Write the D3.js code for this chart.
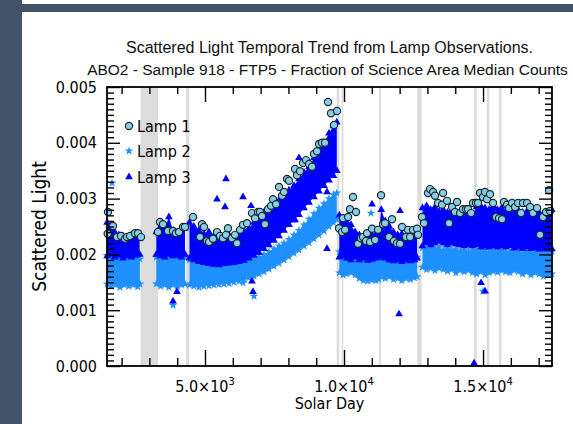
<!DOCTYPE html>
<html><head><meta charset="utf-8">
<script src="https://cdn.jsdelivr.net/npm/d3@7"></script>
<style>body{margin:0;background:#fff} svg{display:block}</style>
</head><body>
<svg id="c" width="573" height="424"></svg>
<script>
// ---------- data (values in units of 1e-3) ----------
const titleLines = ["Scattered Light Temporal Trend from Lamp Observations.",
  "ABO2 - Sample 918 - FTP5 - Fraction of Science Area Median Counts"];
const xTitle = "Solar Day";
const yTitle = "Scattered Light";
const seriesNames = ["Lamp 1", "Lamp 2", "Lamp 3"];
const xDomain = [1475, 17480];
const yDomain = [0, 5];
const xMajorTicks = [5000, 10000, 15000];
const xTickMant = ["5.0", "1.0", "1.5"];
const xTickExp = ["3", "4", "4"];
const yMajorTicks = [0, 1, 2, 3, 4, 5];
const yTickLabels = ["0.000", "0.001", "0.002", "0.003", "0.004", "0.005"];

// grey excluded intervals [start day, end day]
const greyBands = [[2680,3310],[4316,4435],[9737,9830],[9916,9975],[11259,11331],
  [12637,12795],[14676,14772],[15133,15227],[15575,15659]];

// Lamp 3 dense cloud: [day, low, high]
const lamp3Band = [
 [[1480,1.97,2.57],[1600,2.00,2.50],[1750,1.95,2.40],[1900,1.98,2.35],[2050,1.93,2.33],[2200,1.97,2.30],[2350,1.95,2.35],[2500,1.98,2.37],[2650,2.00,2.33]],
 [[3250,2.00,2.40],[3400,1.97,2.50],[3550,1.95,2.45],[3700,2.00,2.67],[3850,1.97,2.43],[4000,1.98,2.40],[4150,1.95,2.45],[4280,2.00,2.47]],
 [[4440,1.93,2.57],[4600,1.90,2.50],[4780,1.87,2.43],[4960,1.85,2.37],[5140,1.83,2.40],[5320,1.82,2.33],[5500,1.81,2.37],[5680,1.83,2.31],
  [5860,1.84,2.35],[6040,1.85,2.33],[6220,1.87,2.39],[6400,1.89,2.43],[6580,1.93,2.47],[6760,1.98,2.57],[6940,2.03,2.65],[7120,2.10,2.75],
  [7300,2.17,2.83],[7480,2.25,2.90],[7660,2.33,2.97],[7840,2.43,3.05],[8020,2.53,3.15],[8200,2.61,3.23],[8380,2.71,3.35],[8560,2.83,3.47],
  [8740,2.93,3.57],[8920,3.03,3.73],[9100,3.13,3.87],[9280,3.23,4.00],[9460,3.33,4.17],[9620,3.41,4.30],[9740,3.50,4.37]],
 [[9830,1.95,2.70],[9960,1.97,2.65],[10100,1.93,2.57],[10250,1.90,2.53],[10400,1.95,2.40],[10550,1.90,2.35],[10700,1.93,2.33],
  [10850,1.89,2.30],[11000,1.91,2.35],[11150,1.93,2.37],[11250,1.95,2.40],[11340,1.95,2.80],[11480,1.93,2.60],[11630,1.90,2.50],
  [11780,1.88,2.40],[11930,1.90,2.35],[12080,1.87,2.37],[12230,1.90,2.33],[12380,1.88,2.30],[12530,1.90,2.35],[12630,1.93,2.40]],
 [[12820,2.15,2.83],[12970,2.20,2.87],[13120,2.17,2.80],[13270,2.20,2.85],[13420,2.23,2.77],[13570,2.20,2.80],[13720,2.17,2.75],
  [13870,2.20,2.78],[14020,2.18,2.73],[14170,2.17,2.77],[14320,2.15,2.73],[14470,2.17,2.75],[14620,2.15,2.71],[14770,2.17,2.85],
  [14920,2.13,2.87],[15070,2.15,2.83],[15220,2.13,2.80],[15370,2.15,2.87],[15520,2.13,2.80],[15670,2.15,2.83],[15820,2.13,2.77],
  [15970,2.15,2.80],[16120,2.11,2.75],[16270,2.13,2.79],[16420,2.10,2.75],[16570,2.13,2.77],[16720,2.10,2.73],[16870,2.11,2.77],
  [17020,2.09,2.75],[17170,2.10,2.71],[17320,2.09,2.75],[17470,2.10,2.80]]
];
// Lamp 2 dense cloud: [day, low, high]
const lamp2Band = [
 [[1480,1.47,1.98],[1620,1.43,1.95],[1780,1.45,1.92],[1940,1.41,1.95],[2100,1.45,1.92],[2260,1.43,1.95],[2420,1.45,1.93],[2580,1.42,1.95],[2660,1.47,1.92]],
 [[3250,1.47,1.95],[3400,1.43,1.95],[3550,1.45,1.92],[3700,1.41,1.95],[3850,1.45,1.92],[4000,1.43,1.95],[4150,1.45,1.92],[4280,1.47,1.95]],
 [[4440,1.45,1.90],[4600,1.43,1.88],[4780,1.41,1.86],[4960,1.43,1.84],[5140,1.44,1.82],[5320,1.45,1.83],[5500,1.46,1.82],[5680,1.47,1.84],
  [5860,1.48,1.85],[6040,1.50,1.86],[6220,1.52,1.88],[6400,1.55,1.90],[6580,1.58,1.92],[6760,1.61,1.91],[6940,1.65,1.95],[7120,1.69,2.00],
  [7300,1.74,2.05],[7480,1.79,2.10],[7660,1.84,2.15],[7840,1.90,2.20],[8020,1.96,2.27],[8200,2.02,2.35],[8380,2.08,2.43],[8560,2.15,2.53],
  [8740,2.21,2.63],[8920,2.28,2.73],[9100,2.35,2.83],[9280,2.42,2.91],[9460,2.50,3.00],[9620,2.57,3.07],[9740,2.63,3.10]],
 [[9830,1.67,2.05],[9960,1.63,2.02],[10100,1.65,2.00],[10250,1.67,1.98],[10400,1.63,2.00],[10550,1.57,1.95],[10700,1.53,1.95],
  [10850,1.52,1.92],[11000,1.54,1.95],[11150,1.53,1.93],[11250,1.55,1.95],[11340,1.60,1.95],[11480,1.57,1.92],[11630,1.60,1.95],
  [11780,1.55,1.90],[11930,1.57,1.92],[12080,1.53,1.90],[12230,1.57,1.93],[12380,1.55,1.90],[12530,1.58,1.92],[12630,1.60,1.95]],
 [[12820,1.77,2.12],[12970,1.73,2.10],[13120,1.75,2.12],[13270,1.71,2.10],[13420,1.75,2.12],[13570,1.73,2.08],[13720,1.70,2.10],
  [13870,1.73,2.08],[14020,1.67,2.10],[14170,1.71,2.06],[14320,1.69,2.08],[14470,1.71,2.05],[14620,1.67,2.08],[14770,1.65,2.06],
  [14920,1.69,2.05],[15070,1.63,2.08],[15220,1.67,2.04],[15370,1.70,2.06],[15520,1.68,2.05],[15670,1.71,2.06],[15820,1.69,2.04],
  [15970,1.67,2.05],[16120,1.71,2.03],[16270,1.69,2.05],[16420,1.65,2.02],[16570,1.68,2.04],[16720,1.63,2.03],[16870,1.67,2.02],
  [17020,1.65,2.04],[17170,1.61,2.02],[17320,1.63,2.03],[17470,1.65,2.05]]
];
// isolated points [day, value]
const lamp3Points = [[3993,1.33],[3849,1.16],[5432,2.99],[5755,3.35],[5719,2.85],[6367,3.03],[6654,2.87],
  [8381,3.73],[8237,2.62],[9388,2.10],[9388,3.12],[6690,1.52],[6726,1.33],[11007,2.90],[12014,2.78],[11978,0.93],
  [14676,0.05],[14928,1.49],[15071,1.34]];
const lamp2Points = [[1655,3.28],[3849,1.09],[6367,1.49],[6762,1.25],[10971,2.74],[14964,2.31],[15000,1.34]];
const lamp1Points = [
 [1511,2.76],[1691,2.51],[1500,2.37],[1835,2.31],[1978,2.33],[2122,2.28],[2194,2.31],[2302,2.33],[2482,2.38],[2590,2.38],[2698,2.31],
 [3309,2.40],[3381,2.58],[3489,2.54],[3669,2.42],[3849,2.42],[3957,2.38],[4065,2.40],[4209,2.49],[4280,2.49],
 [4568,2.67],[4820,2.31],[4892,2.54],[4964,2.49],[5072,2.24],[5144,2.22],[5288,2.28],[5432,2.40],[5539,2.33],[5647,2.29],
 [5755,2.35],[5827,2.47],[5971,2.29],[6079,2.35],[6151,2.20],[6259,2.44],[6367,2.53],[6510,2.56],[6690,2.74],[6798,2.65],
 [6906,2.76],[6978,2.76],[7050,2.69],[7158,2.54],[7266,2.81],[7374,2.87],[7446,2.99],[7554,2.90],[7662,3.21],[7770,3.05],
 [7841,3.12],[7949,3.35],[8021,3.32],[8237,3.53],[8309,3.42],[8417,3.49],[8525,3.64],[8633,3.69],[8741,3.62],[8849,3.57],
 [8921,3.80],[9029,3.85],[9101,3.98],[9208,4.00],[9316,4.00],[9424,4.73],[9532,4.53],[9640,4.32],[9748,4.57],
 [9820,2.47],[9928,2.40],[10036,2.44],[9964,2.65],[10144,2.67],[10215,2.81],[10323,3.03],[10431,2.76],[10503,2.19],[10611,2.29],
 [10683,2.31],[10791,2.24],[10827,2.38],[10935,2.22],[11007,2.46],[11115,2.26],[11223,2.44],[11331,3.06],[11403,2.54],[11474,2.56],
 [11618,2.31],[11726,2.63],[11798,2.24],[11906,2.20],[12014,2.19],[12086,2.49],[12230,2.31],[12302,2.44],[12374,2.31],[12482,2.44],
 [12625,2.46],[12661,2.35],
 [12805,2.67],[12877,2.56],[13021,3.10],[13093,3.17],[13201,3.12],[13273,3.05],[13381,2.92],[13525,2.89],[13561,3.10],[13705,2.96],
 [13777,2.56],[13885,2.85],[13992,2.76],[14064,2.94],[14172,2.74],[14280,2.81],[14388,2.81],[14460,2.81],[14568,2.74],[14640,2.92],
 [14748,2.92],[14820,2.92],[14892,3.10],[14999,3.03],[15071,3.12],[15143,2.99],[15251,3.08],[15359,2.92],[15467,2.67],[15575,2.65],
 [15683,2.63],[15755,2.94],[15863,2.89],[15935,2.83],[16043,2.92],[16151,2.85],[16259,2.92],[16367,2.74],[16438,2.92],[16582,2.92],
 [16690,2.85],[16798,2.74],[16942,2.83],[17050,2.35],[17158,2.67],[17266,2.76],[17374,3.15],[17409,2.78]
];

// ---------- drawing ----------
const C1 = "#87cfe9", C2 = "#1e90ff", C3 = "#0000ff";
const svg = d3.select("#c");
const L = 107, R = 552, T = 87, B = 366;
const x = d3.scaleLinear().domain(xDomain).range([L, R]);
const y = d3.scaleLinear().domain(yDomain).range([B, T]);
const labelFont = "'DejaVu Sans Condensed','DejaVu Sans',sans-serif";

// frame decoration
svg.append("rect").attr("x",0).attr("y",0).attr("width",22).attr("height",424).attr("fill","#43536a");
svg.append("rect").attr("x",22).attr("y",4).attr("width",551).attr("height",8).attr("fill","#43536a");

// grey bands
svg.append("g").selectAll("rect").data(greyBands).join("rect")
  .attr("x", d => x(d[0])).attr("width", d => x(d[1]) - x(d[0]))
  .attr("y", T).attr("height", B - T).attr("fill", "#dcdcdc");

const triangle = d3.symbol(d3.symbolTriangle, 26);
const star = d3.symbol(d3.symbolStar, 24);
const area = d3.area().x(d => x(d[0])).y0(d => y(d[1])).y1(d => y(d[2]));

function drawBand(data, color, sym, pts) {
  const g = svg.append("g");
  g.selectAll("path.a").data(data).join("path").attr("class","a")
    .attr("d", area).attr("fill", color);
  const edges = data.flatMap(seg => seg.flatMap(r => [[r[0], r[1]], [r[0], r[2]]]));
  g.selectAll("path.m").data(edges.concat(pts)).join("path").attr("class","m")
    .attr("transform", d => `translate(${x(d[0])},${y(d[1])})`)
    .attr("d", sym).attr("fill", color);
}
drawBand(lamp2Band, C2, star, lamp2Points);
drawBand(lamp3Band, C3, triangle, lamp3Points);

svg.append("g").selectAll("circle").data(lamp1Points).join("circle")
  .attr("cx", d => x(d[0])).attr("cy", d => y(d[1])).attr("r", 3.6)
  .attr("fill", C1).attr("stroke", "#1b2a2e").attr("stroke-width", 1.2);

// axes
const xMinor = d3.range(2000, 17001, 1000).filter(v => !xMajorTicks.includes(v));
const yMinor = d3.range(1, 50).map(v => v / 10).filter(v => Math.abs(v - Math.round(v)) > 1e-6);
function styleAxis(g) {
  g.select(".domain").remove();
  g.selectAll(".tick line").attr("stroke", "#000").attr("stroke-width", 1.4);
}
svg.append("g").attr("transform", `translate(0,${B})`)
  .call(d3.axisBottom(x).tickValues(xMinor).tickSize(-8).tickFormat("")).call(styleAxis);
svg.append("g").attr("transform", `translate(0,${B})`)
  .call(d3.axisBottom(x).tickValues(xMajorTicks).tickSize(-16).tickFormat("")).call(styleAxis);
svg.append("g").attr("transform", `translate(0,${T})`)
  .call(d3.axisTop(x).tickValues(xMinor).tickSize(-7).tickFormat("")).call(styleAxis);
svg.append("g").attr("transform", `translate(0,${T})`)
  .call(d3.axisTop(x).tickValues(xMajorTicks).tickSize(-15).tickFormat("")).call(styleAxis);
svg.append("g").attr("transform", `translate(${L},0)`)
  .call(d3.axisLeft(y).tickValues(yMinor).tickSize(-7).tickFormat("")).call(styleAxis);
const yl = svg.append("g").attr("transform", `translate(${L},0)`)
  .call(d3.axisLeft(y).tickValues(yMajorTicks).tickSize(-13).tickPadding(10)
    .tickFormat((d, i) => yTickLabels[i])).call(styleAxis);
yl.selectAll("text").attr("font-family", labelFont).attr("font-size", 16).attr("fill", "#000");
svg.append("g").attr("transform", `translate(${R},0)`)
  .call(d3.axisRight(y).tickValues(yMinor).tickSize(-7).tickFormat("")).call(styleAxis);
svg.append("g").attr("transform", `translate(${R},0)`)
  .call(d3.axisRight(y).tickValues(yMajorTicks).tickSize(-13).tickFormat("")).call(styleAxis);

// frame
svg.append("rect").attr("x", L).attr("y", T).attr("width", R - L).attr("height", B - T)
  .attr("fill", "none").attr("stroke", "#000").attr("stroke-width", 1.8);

// x tick labels with superscripts
const xl = svg.append("g").selectAll("text").data(xMajorTicks).join("text")
  .attr("x", d => x(d)).attr("y", B + 26).attr("text-anchor", "middle")
  .attr("font-family", labelFont).attr("font-size", 16).attr("fill", "#000");
xl.append("tspan").text((d, i) => xTickMant[i] + "\u00d710");
xl.append("tspan").attr("dy", -7).attr("font-size", 11).text((d, i) => xTickExp[i]);

svg.append("text").attr("x", (L + R) / 2).attr("y", B + 43).attr("text-anchor", "middle")
  .attr("font-family", labelFont).attr("font-size", 16).text(xTitle);
svg.append("text").attr("transform", `translate(46,${(T + B) / 2}) rotate(-90)`)
  .attr("text-anchor", "middle").attr("font-family", labelFont).attr("font-size", 19).text(yTitle);

// title
svg.append("g").selectAll("text").data(titleLines).join("text")
  .attr("x", (d, i) => i === 0 ? (L + R) / 2 : (L + R) / 2 - 2)
  .attr("y", (d, i) => 53 + i * 22).attr("text-anchor", "middle")
  .attr("font-family", "'Liberation Sans',Arial,sans-serif")
  .attr("font-size", (d, i) => i === 0 ? 16 : 15.5).attr("fill", "#111")
  .text(d => d);

// legend
const lg = svg.append("g");
const legendY = [126, 151, 177];
lg.append("circle").attr("cx", 129).attr("cy", legendY[0]).attr("r", 3.6)
  .attr("fill", C1).attr("stroke", "#1b2a2e").attr("stroke-width", 1.2);
lg.append("path").attr("transform", `translate(129,${legendY[1]})`).attr("d", star).attr("fill", C2);
lg.append("path").attr("transform", `translate(129,${legendY[2]})`).attr("d", triangle).attr("fill", C3);
lg.selectAll("text").data(seriesNames).join("text")
  .attr("x", 137).attr("y", (d, i) => legendY[i] + 6)
  .attr("font-family", labelFont).attr("font-size", 16).attr("fill", "#000").text(d => d);
</script>
</body></html>
